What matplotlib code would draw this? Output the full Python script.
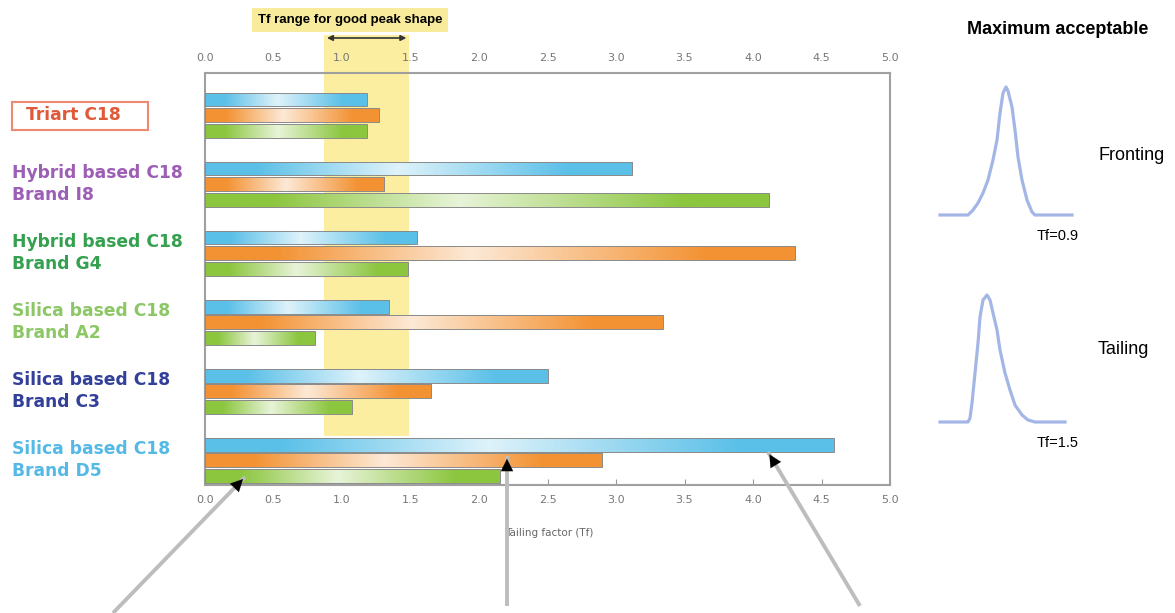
import numpy as np
import matplotlib
matplotlib.use('Agg')
import matplotlib.pyplot as plt
from matplotlib.colors import LinearSegmentedColormap, to_rgb
from matplotlib.patches import Rectangle

# column names (top to bottom) and their label colours
columns = ['Triart C18',
           'Hybrid based C18\nBrand I8',
           'Hybrid based C18\nBrand G4',
           'Silica based C18\nBrand A2',
           'Silica based C18\nBrand C3',
           'Silica based C18\nBrand D5']
label_colors = ['#e05a3a', '#9c5fb5', '#35a04f', '#8cc765', '#33409a', '#55b9e8']

# tailing factors
tf_blue   = [1.18, 3.12, 1.55, 1.34, 2.50, 4.59]
tf_orange = [1.27, 1.31, 4.31, 3.34, 1.65, 2.90]
tf_green  = [1.18, 4.12, 1.48, 0.80, 1.07, 2.15]
bar_colors = ['#5bc0e8', '#f39233', '#8cc63f']

good_range = (0.87, 1.49)
x_ticks = [0.0, 0.5, 1.0, 1.5, 2.0, 2.5, 3.0, 3.5, 4.0, 4.5, 5.0]

# peak sketches on the right (pixel coords)
front_x = [940, 968, 973, 978, 983, 988, 993, 997, 1000, 1003, 1006, 1008, 1012,
           1015, 1018, 1022, 1027, 1032, 1035, 1072]
front_y = [215, 215, 210, 203, 193, 180, 160, 140, 113, 93, 87, 91, 107,
           130, 157, 180, 200, 212, 215, 215]
tail_x = [940, 968, 970, 972, 975, 978, 980, 983, 987, 990, 993, 997, 1000,
          1005, 1010, 1015, 1022, 1028, 1035, 1065]
tail_y = [422, 422, 418, 403, 373, 343, 317, 300, 295, 300, 313, 330, 350,
          373, 390, 405, 415, 420, 422, 422]

W, H = 1175, 613
fig = plt.figure(figsize=(W/100, H/100), dpi=100)
ax = fig.add_axes([205/W, 1-485/H, 685/W, 412/H])

def shade_bar(patch, color):
  # horizontal glossy gradient clipped to the bar
  c = np.array(to_rgb(color))
  light = c + (1-c)*0.8
  cmap = LinearSegmentedColormap.from_list('g', [(0, c), (0.12, c), (0.45, light), (0.85, c), (1, c)])
  x0, y0 = patch.get_x(), patch.get_y()
  w, h = patch.get_width(), patch.get_height()
  grad = np.linspace(0, 1, 256).reshape(1, -1)
  im = ax.imshow(grad, extent=[x0, x0+w, y0+h, y0], aspect='auto',
                 cmap=cmap, zorder=3, interpolation='bilinear')
  im.set_clip_path(patch)

pos = np.arange(len(columns))
off = 0.225
for vals, col, dy in zip([tf_blue, tf_orange, tf_green], bar_colors, [-off, 0, off]):
  bars = ax.barh(pos+dy, vals, height=0.2, facecolor='none',
                 edgecolor='#8a8a8a', linewidth=0.7, zorder=4)
  for b in bars:
    shade_bar(b, col)

# good peak shape band
ax.axvspan(good_range[0], good_range[1], ymin=0.119, ymax=1.092,
           color='#fbeea0', clip_on=False, zorder=1, lw=0)
ax.annotate('', xy=(good_range[0], 1-38/H), xytext=(good_range[1], 1-38/H),
            xycoords=('data', 'figure fraction'), textcoords=('data', 'figure fraction'),
            arrowprops=dict(arrowstyle='<|-|>', color='#333333', lw=1.2, mutation_scale=8))
fig.text(350/W, 1-20/H, 'Tf range for good peak shape', ha='center', va='center',
         fontsize=9.5, fontweight='bold', family='Liberation Sans',
         bbox=dict(boxstyle='square,pad=0.45', facecolor='#f8ec9c', edgecolor='none'))

ax.set_xlim(0, 5)
ax.set_ylim(5.36, -0.61)
ax.set_yticks([])
ax.set_xticks(x_ticks)
ax.set_xticklabels(['%.1f' % t for t in x_ticks])
ax.tick_params(axis='x', labeltop=True, top=False, direction='in', length=4,
               color='#999999', labelcolor='#777777', labelsize=8, pad=7)
for s in ax.spines.values():
  s.set_color('#a0a0a0')
  s.set_linewidth(1.5)
ax.set_xlabel('Tailing factor (Tf)', fontsize=7.5, color='#666666')
ax.xaxis.set_label_coords(0.502, -0.104)

# column labels on the left
tr = matplotlib.transforms.blended_transform_factory(fig.transFigure, ax.transData)
for i, (name, c) in enumerate(zip(columns, label_colors)):
  x = 26 if i == 0 else 12
  ax.text(x/W, i, name, transform=tr, ha='left', va='center', color=c,
          fontsize=12.3, fontweight='bold', linespacing=1.3, clip_on=False)

# overlay in pixel coordinates for the sketches and pointers
ov = fig.add_axes([0, 0, 1, 1], zorder=5)
ov.set_xlim(0, W)
ov.set_ylim(H, 0)
ov.axis('off')
ov.patch.set_alpha(0)

ov.add_patch(Rectangle((12, 102), 136, 28, fill=False, edgecolor='#ec8a72', lw=1.5))

ov.plot(front_x, front_y, color='#a3b6e6', lw=2.3, solid_joinstyle='round')
ov.plot(tail_x, tail_y, color='#a3b6e6', lw=2.3, solid_joinstyle='round')
ov.text(1058, 30, 'Maximum acceptable', ha='center', va='center', fontsize=13,
        fontweight='bold', family='Liberation Sans')
ov.text(1098, 155, 'Fronting', ha='left', va='center', fontsize=13, family='Liberation Sans')
ov.text(1098, 350, 'Tailing', ha='left', va='center', fontsize=13, family='Liberation Sans')
ov.text(1058, 236, 'Tf=0.9', ha='center', va='center', fontsize=10.5, family='Liberation Sans')
ov.text(1058, 443, 'Tf=1.5', ha='center', va='center', fontsize=10.5, family='Liberation Sans')

# grey pointers from below with black heads
pointers = [((113, 613), (245, 477)), ((507, 606), (507, 456)), ((860, 606), (768, 452))]
for (x0, y0), (x1, y1) in pointers:
  ov.plot([x0, x1], [y0, y1], color='#bdbdbd', lw=2.8, solid_capstyle='butt')
  d = np.hypot(x1-x0, y1-y0)
  ux, uy = (x1-x0)/d, (y1-y0)/d
  ov.annotate('', xy=(x1, y1), xytext=(x1-ux*10, y1-uy*10),
              arrowprops=dict(arrowstyle='-|>,head_length=0.8,head_width=0.4',
                              color='black', lw=0.1, mutation_scale=11))

fig.savefig('out.png', dpi=100)
